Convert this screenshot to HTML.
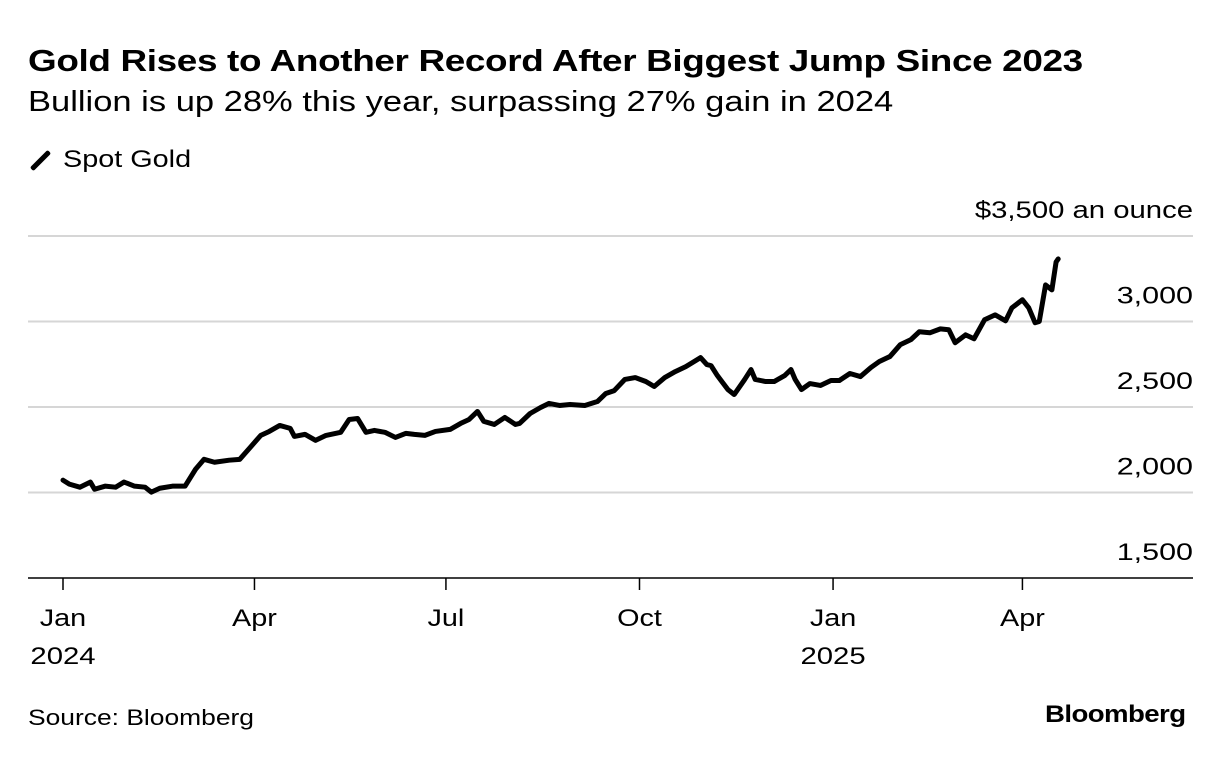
<!DOCTYPE html>
<html><head><meta charset="utf-8"><style>
body{margin:0;background:#fff;font-family:"Liberation Sans",sans-serif;color:#000}
.t{position:absolute;white-space:nowrap;transform-origin:0 0}
</style></head><body>
<div style="position:relative;width:1223px;height:760px;overflow:hidden">
<div class="t" style="left:28px;top:43px;font-size:31px;font-weight:bold;letter-spacing:-0.3px;transform:scaleX(1.19)">Gold Rises to Another Record After Biggest Jump Since 2023</div>
<div class="t" style="left:28px;top:86px;font-size:29px;transform:scaleX(1.19)">Bullion is up 28% this year, surpassing 27% gain in 2024</div>
<div class="t" style="left:28px;top:146px;font-size:24px"><span style="display:inline-block;width:25px;height:5px;background:#000;transform:rotate(-45deg);vertical-align:middle;margin-right:10px;border-radius:2px"></span><span style="display:inline-block;transform:scaleX(1.2);transform-origin:0 50%">Spot Gold</span></div>
<div class="t" style="left:1045px;top:701px;font-size:24px;font-weight:bold;letter-spacing:-0.5px;transform:scaleX(1.15)">Bloomberg</div>
<div class="t" style="left:28px;top:705px;font-size:22px;transform:scaleX(1.2)">Source: Bloomberg</div>
<svg id="svg" width="1223" height="760" style="position:absolute;left:0;top:0"></svg>
</div>
<script>
const days=[0,3,8,13,15,20,25,29,34,39,42,46,52,58,63,67,72,79,84,89,94,98,103,108,110,115,120,125,132,136,140,144,148,153,158,163,167,172,177,184,189,193,197,200,205,210,215,217,222,227,231,236,241,248,254,258,262,267,272,277,281,286,291,296,300,303,306,308,311,316,319,324,327,329,334,338,343,346,348,351,355,360,365,369,374,379,384,388,393,398,403,407,412,417,421,424,429,433,438,443,448,451,456,459,462,464,467,470,472,473];
const prices=[2072,2049,2031,2061,2019,2037,2031,2061,2037,2031,2002,2025,2037,2037,2136,2194,2177,2189,2194,2264,2334,2357,2392,2375,2328,2340,2305,2334,2352,2427,2433,2352,2363,2352,2322,2346,2340,2334,2357,2369,2404,2427,2474,2416,2398,2439,2398,2404,2462,2497,2521,2509,2515,2509,2532,2579,2596,2661,2672,2649,2620,2672,2707,2736,2766,2789,2748,2742,2684,2602,2573,2661,2719,2661,2649,2649,2684,2719,2661,2602,2637,2626,2655,2655,2696,2678,2731,2766,2795,2865,2894,2940,2934,2957,2952,2876,2922,2899,3010,3039,3004,3080,3127,3080,2993,3000,3214,3185,3348,3366];
const yTicks=[1500,2000,2500,3000,3500];
const yTickLabels=["1,500","2,000","2,500","3,000","$3,500 an ounce"];
const xTickDays=[0,91,182,274,366,456];
const xTickLabels=["Jan","Apr","Jul","Oct","Jan","Apr"];
const xTickYears=["2024","","","","2025",""];
const X=d=>63+d*2.104;
const Y=v=>578-(v-1500)*(342/2000);
const svg=document.getElementById('svg');
const NS='http://www.w3.org/2000/svg';
function mk(tag,attrs){const e=document.createElementNS(NS,tag);for(const k in attrs)e.setAttribute(k,attrs[k]);svg.appendChild(e);return e;}
function widen(t,r){const L=t.getComputedTextLength();t.setAttribute('textLength',L*r);t.setAttribute('lengthAdjust','spacingAndGlyphs');}
yTicks.forEach((v,i)=>{
  const l=mk('line',{x1:28,x2:1193,y1:Y(v),y2:Y(v),stroke:i==0?'#000':'#d6d6d6','stroke-width':i==0?1.5:2});
  
  
  const t=mk('text',{x:1193,y:Y(v)-18,'text-anchor':'end','font-size':24,'font-family':'Liberation Sans, sans-serif'});
  t.textContent=yTickLabels[i];
  
  
  widen(t,i==4?1.22:1.27);
});
xTickDays.forEach((d,i)=>{
  const l=mk('line',{x1:X(d),x2:X(d),y1:578,y2:590,stroke:'#000','stroke-width':1.5});
  
  
  const t=mk('text',{x:X(d),y:626,'text-anchor':'middle','font-size':24,'font-family':'Liberation Sans, sans-serif'});
  t.textContent=xTickLabels[i];
  
  
  widen(t,1.2);
  if(xTickYears[i]){
    const t2=mk('text',{x:X(d),y:664,'text-anchor':'middle','font-size':24,'font-family':'Liberation Sans, sans-serif'});
    t2.textContent=xTickYears[i];
    
    
    widen(t2,1.22);
  }
});
const p=mk('polyline',{points:days.map((d,i)=>X(d)+','+Y(prices[i])).join(' '),fill:'none',stroke:'#000','stroke-width':5,'stroke-linejoin':'round','stroke-linecap':'round'});


</script>
</body></html>
